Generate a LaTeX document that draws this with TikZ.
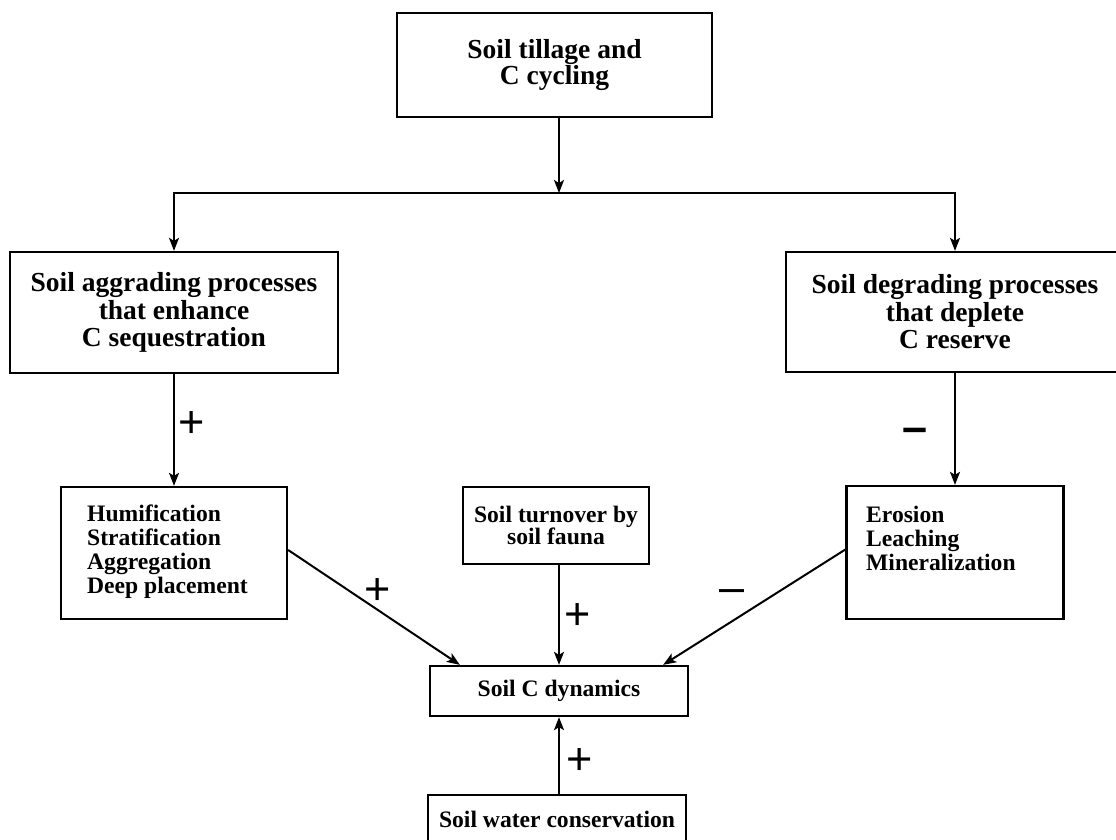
\documentclass[tikz,border=0pt]{standalone}
\usepackage{fontspec}
\setmainfont{Liberation Serif}
\newfontfamily\signfont{Liberation Sans}
\usetikzlibrary{arrows.meta}
\begin{document}
\begin{tikzpicture}[x=1pt,y=-1pt,
  box/.style={draw, line width=2.3pt, inner sep=0pt},
  bigtext/.style={font=\fontsize{27.5}{27.5}\selectfont\bfseries, align=center},
  smalltext/.style={font=\fontsize{23.6}{24}\selectfont\bfseries},
  arr/.style={line width=2pt, -{Stealth[length=13pt,width=10pt,inset=3pt]}},
  sign/.style={font=\signfont\fontsize{45}{45}\selectfont, inner sep=0pt},
  boldsign/.style={font=\signfont\bfseries\fontsize{45}{45}\selectfont, inner sep=0pt}]
\useasboundingbox (0,0) rectangle (1116,839);
\clip (0,0) rectangle (1116,839);

\node[box, bigtext, font=\fontsize{27.5}{26}\selectfont\bfseries, minimum width=315pt, minimum height=104pt] (top) at (554.5,65) {Soil tillage and\\C cycling};
\node[box, bigtext, minimum width=328pt, minimum height=121pt] (agg) at (174,312.5) {Soil aggrading processes\\that enhance\\C sequestration};
\node[box, bigtext, minimum width=338pt, minimum height=120pt] (deg) at (955,312) {Soil degrading processes\\that deplete\\C reserve};

\node[box, minimum width=226pt, minimum height=132pt] (humif) at (174,553) {};
\node[smalltext, align=left, anchor=west, inner sep=0pt] (humiftext) at (87,552) {Humification\\Stratification\\Aggregation\\Deep placement};

\node[box, minimum width=217pt, minimum height=133pt] (eros) at (955,552.5) {};
\node[smalltext, align=left, anchor=west, inner sep=0pt] (erostext) at (866,538) {Erosion\\Leaching\\Mineralization};

\node[box, smalltext, font=\fontsize{23.6}{22}\selectfont\bfseries, align=center, minimum width=186pt, minimum height=77pt] (fauna) at (556,525.5) {Soil turnover by\\soil fauna};
\node[box, smalltext, minimum width=258pt, minimum height=50pt] (dyn) at (559,691) {Soil C dynamics};
\node[box, smalltext, minimum width=258pt, minimum height=48pt] (water) at (557,819) {Soil water conservation};

\coordinate (split) at (559,193);
\draw[arr] (split |- top.south) -- (split);
\draw[arr] (split) -| (agg.north);
\draw[arr] (split) -| (deg.north);
\draw[arr] (agg) -- (humif);
\draw[arr] (deg) -- (eros);
\draw[arr] ([yshift=3pt]humif.east) -- ([xshift=31pt]dyn.north west);
\draw[arr] ([yshift=3pt]eros.west) -- ([xshift=-26pt]dyn.north east);
\draw[arr] (dyn.north |- fauna.south) -- (dyn.north);
\draw[arr] (dyn.south |- water.north) -- (dyn.south);

\node[sign] (s1) at (192,425) {+};
\node[boldsign] (s2) at (915,435) {–};
\node[sign] (s3) at (378,592) {+};
\node[sign] (s4) at (578,617) {+};
\node[sign] (s5) at (732,596) {–};
\node[sign] (s6) at (580,761) {+};
\end{tikzpicture}
\end{document}
